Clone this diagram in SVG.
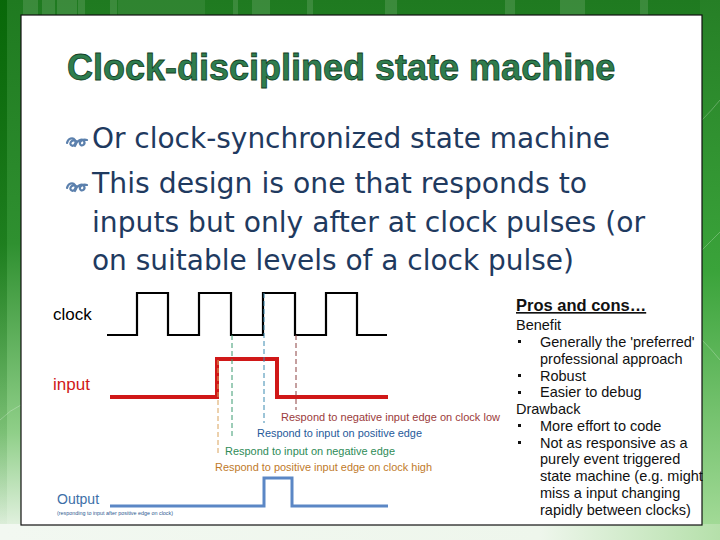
<svg xmlns="http://www.w3.org/2000/svg" width="720" height="540" viewBox="0 0 720 540">
  <defs>
    <linearGradient id="bgv" x1="0" y1="0" x2="0" y2="1">
      <stop offset="0" stop-color="#1f7a20"/>
      <stop offset="0.45" stop-color="#2f9030"/>
      <stop offset="0.8" stop-color="#8fcf88"/>
      <stop offset="1" stop-color="#eef6ec"/>
    </linearGradient>
    <linearGradient id="bgl" x1="0" y1="0" x2="0" y2="1">
      <stop offset="0" stop-color="#066606" stop-opacity="0.9"/>
      <stop offset="0.6" stop-color="#0a6a0a" stop-opacity="0.3"/>
      <stop offset="1" stop-color="#0a6a0a" stop-opacity="0"/>
    </linearGradient>
    <linearGradient id="bgr" x1="0" y1="0" x2="0" y2="1">
      <stop offset="0" stop-color="#267f26"/>
      <stop offset="0.5" stop-color="#3aa33a"/>
      <stop offset="1" stop-color="#a8dd9c"/>
    </linearGradient>
    <linearGradient id="bgb" x1="0" y1="0" x2="1" y2="0">
      <stop offset="0" stop-color="#f2f8f1"/>
      <stop offset="0.75" stop-color="#eef6ec"/>
      <stop offset="1" stop-color="#b5e0aa"/>
    </linearGradient>
    <path id="bul" d="M1,6 C2,1 7,0 9,3 C11,7 7,10 5,8 C3,6 6,2 10,4 M9,9 C11,3 16,1 18,4 C20,8 15,10 14,7 C13,4 17,2 21,3"/>
  </defs>
  <style>
    .title { font-family: "Liberation Sans", Arial, sans-serif; font-weight: bold; font-size: 36px; fill: #2e7d4e; stroke: #123f26; stroke-width: 0.8; }
    .main { font-family: "DejaVu Sans Condensed", "DejaVu Sans", sans-serif; font-stretch: condensed; font-size: 28px; fill: #1f3a5f; }
    .bulsym { fill: none; stroke: #5b80ad; stroke-width: 2.2; stroke-linecap: round; }
    .lbl { font-family: "Liberation Sans", Arial, sans-serif; font-size: 17px; }
    .note { font-family: "Liberation Sans", Arial, sans-serif; font-size: 11px; }
    .side { font-family: "Liberation Sans", Arial, sans-serif; font-size: 14.5px; fill: #111; }
    .wave { fill: none; stroke-linejoin: miter; }
    .dash { stroke-width: 1; stroke-dasharray: 5 3; fill: none; }
  </style>

  <!-- background -->
  <rect x="0" y="0" width="720" height="540" fill="url(#bgv)"/>
  <rect x="0" y="0" width="7" height="540" fill="url(#bgl)"/>
  <rect x="700" y="0" width="20" height="540" fill="url(#bgr)"/>
  <rect x="0" y="524" width="720" height="16" fill="url(#bgb)"/>
  <g fill="#ffffff" opacity="0.12">
    <rect x="23" y="0" width="15" height="15"/>
    <rect x="42" y="0" width="13" height="15"/>
    <rect x="57" y="0" width="20" height="15"/>
    <rect x="78" y="0" width="7" height="15"/>
    <rect x="110" y="0" width="7" height="15"/>
    <rect x="118" y="0" width="87" height="15" opacity="0.6"/>
    <rect x="233" y="0" width="5" height="15"/>
    <rect x="252" y="0" width="18" height="15"/>
    <rect x="307" y="0" width="6" height="15"/>
    <rect x="385" y="0" width="12" height="15"/>
    <rect x="505" y="0" width="10" height="15"/>
    <rect x="560" y="0" width="25" height="15"/>
    <rect x="640" y="0" width="8" height="15"/>
  </g>
  <g fill="none" stroke="#ffffff" stroke-width="1" opacity="0.25">
    <path d="M702,120 Q712,110 720,100"/>
    <path d="M702,250 Q712,240 720,232"/>
    <path d="M702,340 Q712,350 720,360"/>
    <path d="M0,420 Q10,410 21,405"/>
  </g>

  <!-- slide panel -->
  <rect x="21" y="15" width="681" height="510" fill="#ffffff" stroke="#111111" stroke-width="1.2"/>

  <!-- title -->
  <text class="title" x="67" y="80">Clock-disciplined state machine</text>

  <!-- bullets -->
  <g id="bullets">
    <use href="#bul" class="bulsym" x="66" y="137"/>
    <text class="main" x="92" y="148" textLength="518" lengthAdjust="spacingAndGlyphs">Or clock-synchronized state machine</text>
    <use href="#bul" class="bulsym" x="66" y="182"/>
    <text class="main" x="92" y="193" textLength="495" lengthAdjust="spacingAndGlyphs">This design is one that responds to</text>
    <text class="main" x="92" y="232" textLength="553" lengthAdjust="spacingAndGlyphs">inputs but only after at clock pulses (or</text>
    <text class="main" x="92" y="270" textLength="482" lengthAdjust="spacingAndGlyphs">on suitable levels of a clock pulse)</text>
  </g>

  <!-- waveforms -->
  <g id="clock">
    <text class="lbl" x="53" y="320" fill="#000">clock</text>
    <path class="wave" stroke="#000" stroke-width="2.2" d="M107,335 H137 V293 H168 V335 H199 V293 H231 V335 H263 V293 H295 V335 H326 V293 H357 V335 H387"/>
  </g>
  <g id="input">
    <text class="lbl" x="53" y="390" fill="#d01818">input</text>
    <path class="wave" stroke="#d01818" stroke-width="4" d="M110,397 H217 V359 H277 V397 H388"/>
  </g>
  <g id="output">
    <text x="57" y="504" fill="#3d6fa8" font-family="Liberation Sans, Arial, sans-serif" font-size="14">Output</text>
    <text x="57" y="515" fill="#2d5a90" font-family="Liberation Sans, Arial, sans-serif" font-size="5" textLength="116" lengthAdjust="spacingAndGlyphs">(responding to input after positive edge on clock)</text>
    <path class="wave" stroke="#5b87c5" stroke-width="3" d="M110,506 H264 V478 H292 V506 H388"/>
  </g>

  <!-- connectors: dashed markers -->
  <g id="connectors">
    <line class="dash" stroke="#d9a25a" x1="218" y1="360" x2="218" y2="454"/>
    <line class="dash" stroke="#3a9a70" x1="232" y1="335" x2="232" y2="438"/>
    <line class="dash" stroke="#3a8ab0" x1="264" y1="293" x2="264" y2="423"/>
    <line class="dash" stroke="#8b4040" x1="296" y1="335" x2="296" y2="410"/>
  </g>
  <g id="notes">
    <text class="note" fill="#9b3b3b" x="281" y="421" textLength="219" lengthAdjust="spacingAndGlyphs">Respond to negative input edge on clock low</text>
    <text class="note" fill="#1f5a9a" x="257" y="437" textLength="165" lengthAdjust="spacingAndGlyphs">Respond to input on positive edge</text>
    <text class="note" fill="#2e8b57" x="225" y="455" textLength="170" lengthAdjust="spacingAndGlyphs">Respond to input on negative edge</text>
    <text class="note" fill="#c07a2a" x="215" y="471" textLength="217" lengthAdjust="spacingAndGlyphs">Respond to positive input edge on clock high</text>
  </g>

  <!-- pros and cons -->
  <g id="pros">
    <text x="516" y="311" font-family="Liberation Sans, Arial, sans-serif" font-size="16.5" font-weight="bold" fill="#111" text-decoration="underline">Pros and cons…</text>
    <text class="side" x="516" y="330">Benefit</text>
    <rect x="518" y="340" width="3" height="3" fill="#111"/>
    <text class="side" x="540" y="347">Generally the 'preferred'</text>
    <text class="side" x="540" y="364">professional approach</text>
    <rect x="518" y="374" width="3" height="3" fill="#111"/>
    <text class="side" x="540" y="381">Robust</text>
    <rect x="518" y="391" width="3" height="3" fill="#111"/>
    <text class="side" x="540" y="397">Easier to debug</text>
    <text class="side" x="516" y="414">Drawback</text>
    <rect x="518" y="424" width="3" height="3" fill="#111"/>
    <text class="side" x="540" y="431">More effort to code</text>
    <rect x="518" y="441" width="3" height="3" fill="#111"/>
    <text class="side" x="540" y="448">Not as responsive as a</text>
    <text class="side" x="540" y="464">purely event triggered</text>
    <text class="side" x="540" y="481">state machine (e.g. might</text>
    <text class="side" x="540" y="498">miss a input changing</text>
    <text class="side" x="540" y="515">rapidly between clocks)</text>
  </g>
</svg>
